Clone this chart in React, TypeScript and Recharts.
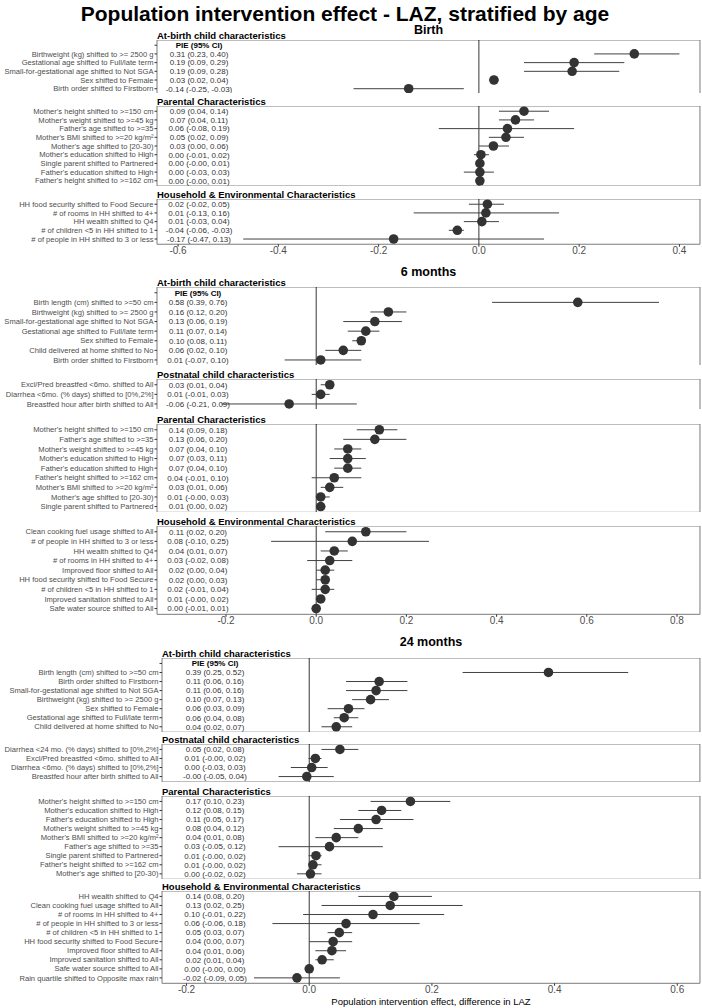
import React from "react";
import {
  ScatterChart,
  Scatter,
  XAxis,
  YAxis,
  CartesianGrid,
  ErrorBar,
  ReferenceLine,
  ReferenceArea,
} from "recharts";

const FONT = '"Liberation Sans", Arial, Helvetica, sans-serif';

// ---------------- Titles ----------------
const mainTitle = "Population intervention effect - LAZ, stratified by age";
const xAxisTitle = "Population intervention effect, difference in LAZ";
const pieHeader = "PIE (95% CI)";
const stripAtBirth = "At-birth child characteristics";
const stripPostnatal = "Postnatal child characteristics";
const stripParental = "Parental Characteristics";
const stripHousehold = "Household & Environmental Characteristics";

// ---------------- Birth ----------------
const birthAtBirthLabels = [
  "Birthweight (kg) shifted to >= 2500 g",
  "Gestational age shifted to Full/late term",
  "Small-for-gestational age shifted to Not SGA",
  "Sex shifted to Female",
  "Birth order shifted to Firstborn",
];
const birthAtBirthEst = [0.31, 0.19, 0.186, 0.03, -0.14];
const birthAtBirthLo = [0.23, 0.09, 0.09, 0.02, -0.25];
const birthAtBirthHi = [0.4, 0.29, 0.28, 0.04, -0.03];

const birthParentalLabels = [
  "Mother's height shifted to >=150 cm",
  "Mother's weight shifted to >=45 kg",
  "Father's age shifted to >=35",
  "Mother's BMI shifted to >=20 kg/m²",
  "Mother's age shifted to [20-30)",
  "Mother's education shifted to High",
  "Single parent shifted to Partnered",
  "Father's education shifted to High",
  "Father's height shifted to >=162 cm",
];
const birthParentalEst = [0.09, 0.073, 0.057, 0.054, 0.029, 0.004, 0.002, 0.002, 0.002];
const birthParentalLo = [0.04, 0.04, -0.08, 0.02, 0.0, -0.01, -0.001, -0.03, -0.001];
const birthParentalHi = [0.14, 0.11, 0.19, 0.09, 0.06, 0.02, 0.01, 0.03, 0.01];

const birthHouseholdLabels = [
  "HH food security shifted to Food Secure",
  "# of rooms in HH shifted to 4+",
  "HH wealth shifted to Q4",
  "# of children <5 in HH shifted to 1",
  "# of people in HH shifted to 3 or less",
];
const birthHouseholdEst = [0.017, 0.014, 0.006, -0.043, -0.17];
const birthHouseholdLo = [-0.02, -0.13, -0.03, -0.06, -0.47];
const birthHouseholdHi = [0.05, 0.16, 0.04, -0.03, 0.13];

// ---------------- 6 months ----------------
const m6AtBirthLabels = [
  "Birth length (cm) shifted to >=50 cm",
  "Birthweight (kg) shifted to >= 2500 g",
  "Small-for-gestational age shifted to Not SGA",
  "Gestational age shifted to Full/late term",
  "Sex shifted to Female",
  "Child delivered at home shifted to No",
  "Birth order shifted to Firstborn",
];
const m6AtBirthEst = [0.58, 0.16, 0.13, 0.11, 0.1, 0.06, 0.01];
const m6AtBirthLo = [0.39, 0.12, 0.06, 0.07, 0.08, 0.02, -0.07];
const m6AtBirthHi = [0.76, 0.2, 0.19, 0.14, 0.11, 0.1, 0.1];

const m6PostnatalLabels = [
  "Excl/Pred breastfed <6mo. shifted to All",
  "Diarrhea <6mo. (% days) shifted to [0%,2%]",
  "Breastfed hour after birth shifted to All",
];
const m6PostnatalEst = [0.03, 0.01, -0.06];
const m6PostnatalLo = [0.01, -0.01, -0.21];
const m6PostnatalHi = [0.04, 0.03, 0.09];

const m6ParentalLabels = [
  "Mother's height shifted to >=150 cm",
  "Father's age shifted to >=35",
  "Mother's weight shifted to >=45 kg",
  "Mother's education shifted to High",
  "Father's education shifted to High",
  "Father's height shifted to >=162 cm",
  "Mother's BMI shifted to >=20 kg/m²",
  "Mother's age shifted to [20-30)",
  "Single parent shifted to Partnered",
];
const m6ParentalEst = [0.14, 0.13, 0.07, 0.07, 0.07, 0.04, 0.03, 0.01, 0.01];
const m6ParentalLo = [0.09, 0.06, 0.04, 0.03, 0.04, -0.01, 0.01, -0.001, 0.0];
const m6ParentalHi = [0.18, 0.2, 0.1, 0.11, 0.1, 0.1, 0.06, 0.03, 0.02];

const m6HouseholdLabels = [
  "Clean cooking fuel usage shifted to All",
  "# of people in HH shifted to 3 or less",
  "HH wealth shifted to Q4",
  "# of rooms in HH shifted to 4+",
  "Improved floor shifted to All",
  "HH food security shifted to Food Secure",
  "# of children <5 in HH shifted to 1",
  "Improved sanitation shifted to All",
  "Safe water source shifted to All",
];
const m6HouseholdEst = [0.11, 0.08, 0.04, 0.03, 0.02, 0.02, 0.02, 0.01, 0.0];
const m6HouseholdLo = [0.02, -0.1, 0.01, -0.02, 0.0, 0.0, -0.01, -0.001, -0.01];
const m6HouseholdHi = [0.2, 0.25, 0.07, 0.08, 0.04, 0.03, 0.04, 0.02, 0.01];

// ---------------- 24 months ----------------
const m24AtBirthLabels = [
  "Birth length (cm) shifted to >=50 cm",
  "Birth order shifted to Firstborn",
  "Small-for-gestational age shifted to Not SGA",
  "Birthweight (kg) shifted to >= 2500 g",
  "Sex shifted to Female",
  "Gestational age shifted to Full/late term",
  "Child delivered at home shifted to No",
];
const m24AtBirthEst = [0.39, 0.114, 0.109, 0.1, 0.064, 0.057, 0.044];
const m24AtBirthLo = [0.25, 0.06, 0.06, 0.07, 0.03, 0.04, 0.02];
const m24AtBirthHi = [0.52, 0.16, 0.16, 0.13, 0.09, 0.08, 0.07];

const m24PostnatalLabels = [
  "Diarrhea <24 mo. (% days) shifted to [0%,2%]",
  "Excl/Pred breastfed <6mo. shifted to All",
  "Diarrhea <6mo. (% days) shifted to [0%,2%]",
  "Breastfed hour after birth shifted to All",
];
const m24PostnatalEst = [0.05, 0.01, 0.004, -0.004];
const m24PostnatalLo = [0.02, -0.001, -0.03, -0.05];
const m24PostnatalHi = [0.08, 0.02, 0.03, 0.04];

const m24ParentalLabels = [
  "Mother's height shifted to >=150 cm",
  "Mother's education shifted to High",
  "Father's education shifted to High",
  "Mother's weight shifted to >=45 kg",
  "Mother's BMI shifted to >=20 kg/m²",
  "Father's age shifted to >=35",
  "Single parent shifted to Partnered",
  "Father's height shifted to >=162 cm",
  "Mother's age shifted to [20-30)",
];
const m24ParentalEst = [0.165, 0.118, 0.109, 0.08, 0.044, 0.033, 0.011, 0.006, 0.002];
const m24ParentalLo = [0.1, 0.08, 0.05, 0.04, 0.01, -0.05, -0.001, -0.001, -0.02];
const m24ParentalHi = [0.23, 0.15, 0.17, 0.12, 0.08, 0.12, 0.02, 0.02, 0.02];

const m24HouseholdLabels = [
  "HH wealth shifted to Q4",
  "Clean cooking fuel usage shifted to All",
  "# of rooms in HH shifted to 4+",
  "# of people in HH shifted to 3 or less",
  "# of children <5 in HH shifted to 1",
  "HH food security shifted to Food Secure",
  "Improved floor shifted to All",
  "Improved sanitation shifted to All",
  "Safe water source shifted to All",
  "Rain quartile shifted to Opposite max rain",
];
const m24HouseholdEst = [0.138, 0.132, 0.104, 0.06, 0.049, 0.039, 0.037, 0.021, 0.0, -0.02];
const m24HouseholdLo = [0.08, 0.02, -0.01, -0.06, 0.03, 0.0, 0.01, 0.01, -0.001, -0.09];
const m24HouseholdHi = [0.2, 0.25, 0.22, 0.18, 0.07, 0.07, 0.06, 0.04, 0.0, 0.05];

// ---------------- Axis ticks ----------------
const birthTicks = [-0.6, -0.4, -0.2, 0, 0.2, 0.4];
const m6Ticks = [-0.2, 0, 0.2, 0.4, 0.6, 0.8];
const m24Ticks = [-0.2, 0, 0.2, 0.4, 0.6];

// ---------------- Layout ----------------
type PanelCfg = {
  strip: string;
  labels: string[];
  est: number[];
  lo: number[];
  hi: number[];
  top: number;
  header?: boolean;
};
type BlockCfg = {
  title: string;
  titleY: number;
  left: number;
  domain: [number, number];
  ticks: number[];
  step: number;
  pieX: number;
  panels: PanelCfg[];
};

const RIGHT = 700;
const W = 702;

const blocks: BlockCfg[] = [
  {
    title: "Birth",
    titleY: 30,
    left: 157,
    domain: [-0.642, 0.441],
    ticks: birthTicks,
    step: 8.7,
    pieX: 199,
    panels: [
      { strip: stripAtBirth, labels: birthAtBirthLabels, est: birthAtBirthEst, lo: birthAtBirthLo, hi: birthAtBirthHi, top: 39.5, header: true },
      { strip: stripParental, labels: birthParentalLabels, est: birthParentalEst, lo: birthParentalLo, hi: birthParentalHi, top: 106 },
      { strip: stripHousehold, labels: birthHouseholdLabels, est: birthHouseholdEst, lo: birthHouseholdLo, hi: birthHouseholdHi, top: 199 },
    ],
  },
  {
    title: "6 months",
    titleY: 272,
    left: 157,
    domain: [-0.353, 0.851],
    ticks: m6Ticks,
    step: 9.6,
    pieX: 198,
    panels: [
      { strip: stripAtBirth, labels: m6AtBirthLabels, est: m6AtBirthEst, lo: m6AtBirthLo, hi: m6AtBirthHi, top: 286.5, header: true },
      { strip: stripPostnatal, labels: m6PostnatalLabels, est: m6PostnatalEst, lo: m6PostnatalLo, hi: m6PostnatalHi, top: 378.5 },
      { strip: stripParental, labels: m6ParentalLabels, est: m6ParentalEst, lo: m6ParentalLo, hi: m6ParentalHi, top: 423.5 },
      { strip: stripHousehold, labels: m6HouseholdLabels, est: m6HouseholdEst, lo: m6HouseholdLo, hi: m6HouseholdHi, top: 525.5 },
    ],
  },
  {
    title: "24 months",
    titleY: 642,
    left: 162,
    domain: [-0.24, 0.637],
    ticks: m24Ticks,
    step: 9.05,
    pieX: 215,
    panels: [
      { strip: stripAtBirth, labels: m24AtBirthLabels, est: m24AtBirthEst, lo: m24AtBirthLo, hi: m24AtBirthHi, top: 657.5, header: true },
      { strip: stripPostnatal, labels: m24PostnatalLabels, est: m24PostnatalEst, lo: m24PostnatalLo, hi: m24PostnatalHi, top: 743.5 },
      { strip: stripParental, labels: m24ParentalLabels, est: m24ParentalEst, lo: m24ParentalLo, hi: m24ParentalHi, top: 795.5 },
      { strip: stripHousehold, labels: m24HouseholdLabels, est: m24HouseholdEst, lo: m24HouseholdLo, hi: m24HouseholdHi, top: 891 },
    ],
  },
];

const fmt = (v: number) => v.toFixed(2);

const Dot = (props: any) => {
  const { cx, cy } = props;
  if (cx == null || cy == null) return null;
  return <circle cx={cx} cy={cy} r={4.8} fill="#333333" />;
};

function Panel({ block, panel, showAxis }: { block: BlockCfg; panel: PanelCfg; showAxis: boolean }) {
  const off = panel.header ? 1 : 0;
  const n = panel.labels.length + off;
  const labels = panel.header ? [""].concat(panel.labels) : panel.labels;
  const texts = (panel.header ? [pieHeader] : []).concat(
    panel.est.map((e, i) => `${fmt(e)} (${fmt(panel.lo[i])}, ${fmt(panel.hi[i])})`)
  );
  const data = panel.est.map((e, i) => ({
    row: i + off,
    est: e,
    err: [e - panel.lo[i], panel.hi[i] - e],
  }));
  const plotH = (n + 0.2) * block.step;
  const axisH = showAxis ? 18 : 0;
  const rowTicks = labels.map((_, i) => i);
  const minor: number[] = [];
  for (let k = Math.ceil(block.domain[0] * 10 - 1e-9); k <= Math.floor(block.domain[1] * 10 + 1e-9); k++) {
    minor.push(k / 10);
  }

  const tick = (props: any) => {
    const { x, y, payload } = props;
    const i = Math.round(payload.value);
    const isHeader = panel.header && i === 0;
    return (
      <g>
        {labels[i] ? (
          <text x={x} y={y} dy="0.35em" textAnchor="end" fontSize={7.6} fill="#4d4d4d" fontFamily={FONT}>
            {labels[i]}
          </text>
        ) : null}
        <text
          x={block.pieX}
          y={y}
          dy="0.35em"
          textAnchor="middle"
          fontSize={8}
          fontWeight={isHeader ? "bold" : "normal"}
          fill={isHeader ? "#000" : "#333"}
          fontFamily={FONT}
        >
          {texts[i]}
        </text>
      </g>
    );
  };

  const sx = (ax: any, t: number) => (ax && typeof ax.scale === "function" ? ax.scale(t) : NaN);

  return (
    <div style={{ position: "absolute", left: 0, top: panel.top }}>
      <ScatterChart width={W} height={plotH + axisH} margin={{ top: 0, right: W - RIGHT, bottom: 0, left: 0 }}>
        <CartesianGrid
          stroke="#f3f3f3"
          strokeWidth={0.6}
          horizontal={false}
          verticalCoordinatesGenerator={({ xAxis }: any) => minor.map((t) => sx(xAxis, t)).filter((v) => !isNaN(v))}
        />
        <CartesianGrid
          stroke="#e8e8e8"
          strokeWidth={0.9}
          verticalCoordinatesGenerator={({ xAxis }: any) => block.ticks.map((t) => sx(xAxis, t)).filter((v) => !isNaN(v))}
          horizontalCoordinatesGenerator={({ yAxis }: any) => rowTicks.map((t) => sx(yAxis, t)).filter((v) => !isNaN(v))}
        />
        <XAxis
          type="number"
          dataKey="est"
          domain={block.domain}
          ticks={block.ticks}
          allowDataOverflow
          hide={!showAxis}
          height={axisH}
          interval={0}
          axisLine={false}
          tickSize={2.5}
          tickMargin={0.5}
          tickLine={{ stroke: "#333" }}
          tick={{ fontSize: 10, fill: "#4d4d4d", fontFamily: FONT }}
          tickFormatter={(v: number) => v.toFixed(1)}
        />
        <YAxis
          type="number"
          dataKey="row"
          domain={[-0.6, n - 0.4]}
          ticks={rowTicks}
          reversed
          allowDataOverflow
          interval={0}
          width={block.left}
          axisLine={false}
          tickSize={2.5}
          tickMargin={1}
          tickLine={{ stroke: "#333" }}
          tick={tick}
        />
        <ReferenceLine x={0} stroke="#000" strokeWidth={0.8} />
        <ReferenceArea
          x1={block.domain[0]}
          x2={block.domain[1]}
          y1={-0.6}
          y2={n - 0.4}
          fill="none"
          fillOpacity={0}
          stroke="#7a7a7a"
          strokeWidth={1}
          ifOverflow="visible"
        />
        <Scatter data={data} isAnimationActive={false} shape={<Dot />}>
          <ErrorBar dataKey="err" direction="x" width={0} stroke="#404040" strokeWidth={1} isAnimationActive={false} />
        </Scatter>
      </ScatterChart>
    </div>
  );
}

export default function App() {
  return (
    <div
      style={{
        position: "absolute",
        left: 0,
        top: 0,
        width: W,
        height: 1008,
        background: "#fff",
        fontFamily: FONT,
        overflow: "hidden",
      }}
    >
      <div
        style={{
          position: "absolute",
          left: 0,
          width: 690,
          top: 2,
          textAlign: "center",
          fontSize: 21,
          fontWeight: "bold",
          lineHeight: "23px",
          color: "#000",
          whiteSpace: "nowrap",
        }}
      >
        {mainTitle}
      </div>
      {blocks.map((b, bi) => (
        <React.Fragment key={bi}>
          <div
            style={{
              position: "absolute",
              left: b.left,
              width: RIGHT - b.left,
              top: b.titleY - 7,
              textAlign: "center",
              fontSize: 12.5,
              fontWeight: "bold",
              lineHeight: "14px",
              color: "#000",
            }}
          >
            {b.title}
          </div>
          {b.panels.map((p, pi) => (
            <React.Fragment key={pi}>
              <div
                style={{
                  position: "absolute",
                  left: b.left,
                  top: p.top - 10,
                  fontSize: 9.5,
                  fontWeight: "bold",
                  lineHeight: "11px",
                  color: "#000",
                  whiteSpace: "nowrap",
                }}
              >
                {p.strip}
              </div>
              <Panel block={b} panel={p} showAxis={pi === b.panels.length - 1} />
            </React.Fragment>
          ))}
        </React.Fragment>
      ))}
      <div
        style={{
          position: "absolute",
          left: 162,
          width: RIGHT - 162,
          top: 995.5,
          textAlign: "center",
          fontSize: 9.5,
          lineHeight: "11px",
          color: "#000",
          whiteSpace: "nowrap",
        }}
      >
        {xAxisTitle}
      </div>
    </div>
  );
}
